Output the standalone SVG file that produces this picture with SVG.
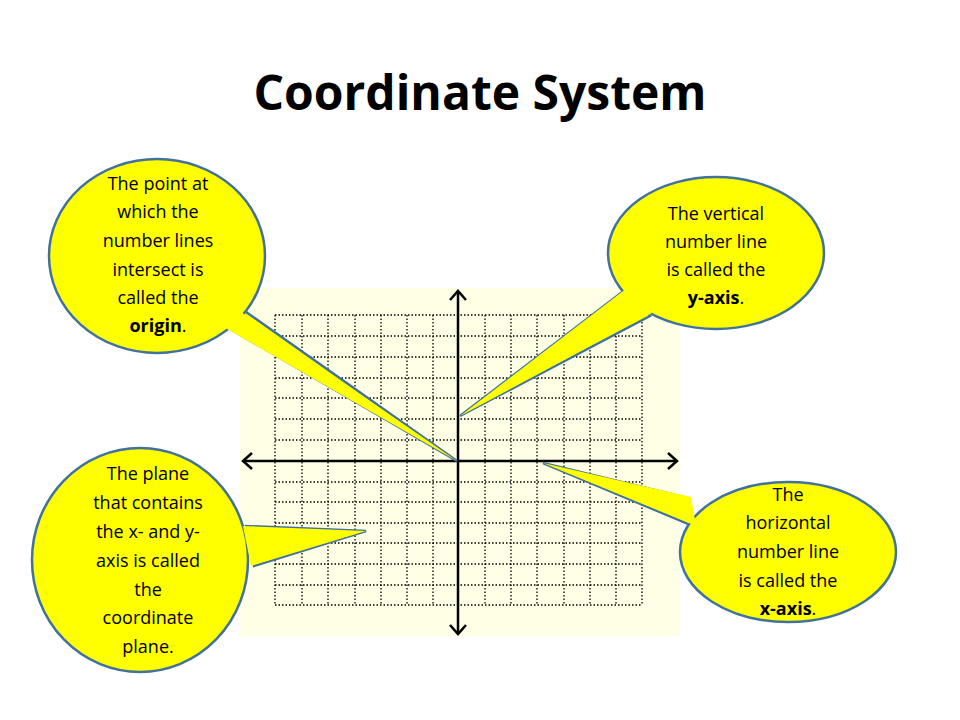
<svg xmlns="http://www.w3.org/2000/svg" width="960" height="720" viewBox="0 0 960 720">
<style>
.t{font-family:"Open Sans","Liberation Sans",sans-serif;font-size:18px;fill:#000;text-anchor:middle}
.co{fill:#FFFF00;stroke:#41719C;stroke-width:2.5}
.cf{fill:#FFFF00;stroke:none}
.g{stroke:#000;stroke-width:1.3;stroke-dasharray:1.5 2;fill:none}
.ax{stroke:#000;stroke-width:2.5;fill:none}
</style>
<rect width="960" height="720" fill="#fff"/>
<text x="480" y="110" font-family="'Open Sans','Liberation Sans',sans-serif" font-size="48" font-weight="bold" text-anchor="middle">Coordinate System</text>
<g id="plane">
<rect x="240" y="288" width="440" height="348" fill="#FFFFE6"/>
<path class="g" d="M275 315V605M302 315V605M328 315V605M355 315V605M381 315V605M407 315V605M433 315V605M485 315V605M511 315V605M537 315V605M564 315V605M590 315V605M616 315V605M642 315V605"/>
<path class="g" d="M275 315H642M275 336H642M275 357H642M275 378H642M275 398H642M275 419H642M275 440H642M275 482H642M275 502H642M275 523H642M275 543H642M275 564H642M275 585H642M275 605H642"/>
</g>
<g id="axes">
<path class="ax" d="M458 291V634M243 461H677"/>
<path class="ax" d="M450 300L458 291L466 300M450 625L458 634L466 625M252 453L243 461L252 469M668 453L677 461L668 469"/>
</g>
<g id="callout-origin">
<polygon class="co" points="215,290 225,326 457,461"/>
<ellipse class="co" cx="157" cy="256" rx="108" ry="97"/>
<polygon class="cf" points="212,292 222,326 457,461"/>
<text class="t" x="158" y="190">The point at</text>
<text class="t" x="158" y="218">which the</text>
<text class="t" x="158" y="247">number lines</text>
<text class="t" x="158" y="276">intersect is</text>
<text class="t" x="158" y="304">called the</text>
<text class="t" x="158" y="332" font-weight="bold">origin<tspan font-weight="normal">.</tspan></text>
</g>
<g id="callout-yaxis">
<polygon class="co" points="625,290 650,316 460,416"/>
<ellipse class="co" cx="716" cy="253" rx="108" ry="76"/>
<polygon class="cf" points="627,288 652,313 460,416"/>
<text class="t" x="716" y="220">The vertical</text>
<text class="t" x="716" y="248">number line</text>
<text class="t" x="716" y="276">is called the</text>
<text class="t" x="716" y="304"><tspan font-weight="bold">y-axis</tspan>.</text>
</g>
<g id="callout-plane">
<polygon class="co" points="246,526 254,566 366,531"/>
<ellipse class="co" cx="140" cy="560" rx="108" ry="112"/>
<polygon class="cf" points="243,526 251,566 366,531"/>
<text class="t" x="148" y="480">The plane</text>
<text class="t" x="148" y="509">that contains</text>
<text class="t" x="148" y="538">the x- and y-</text>
<text class="t" x="148" y="567">axis is called</text>
<text class="t" x="148" y="596">the</text>
<text class="t" x="148" y="624">coordinate</text>
<text class="t" x="148" y="653">plane.</text>
</g>
<g id="callout-xaxis">
<polygon class="co" points="688,498 693,526 543,463"/>
<ellipse class="co" cx="788" cy="552" rx="108" ry="70"/>
<polygon class="cf" points="691,497 696,526 543,463"/>
<text class="t" x="788" y="501">The</text>
<text class="t" x="788" y="529">horizontal</text>
<text class="t" x="788" y="558">number line</text>
<text class="t" x="788" y="587">is called the</text>
<text class="t" x="788" y="615"><tspan font-weight="bold">x-axis</tspan>.</text>
</g>
</svg>
